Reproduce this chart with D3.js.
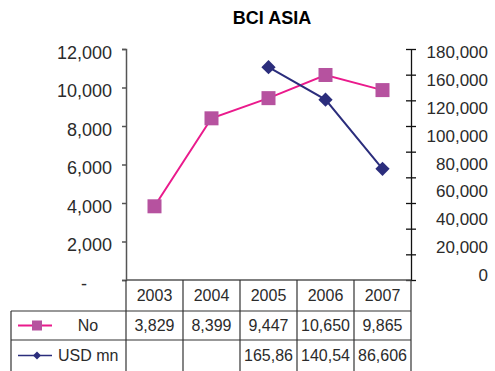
<!DOCTYPE html>
<html>
<head>
<meta charset="utf-8">
<script src="https://cdn.jsdelivr.net/npm/d3@7"></script>
<style>
  body { margin: 0; background: #fff; }
  svg text { font-family: "Liberation Sans", Arial, sans-serif; fill: #2b2b2b; }
</style>
</head>
<body>
<div id="chart"></div>
<script>
// BCI Asia: number of projects (left axis) and value in USD mn (right axis)

const years = ["2003", "2004", "2005", "2006", "2007"]
const noValues = [3829, 8399, 9447, 10650, 9865]
const usdValues = [null, null, 165860, 140540, 86606]

const noLabels = ["3,829", "8,399", "9,447", "10,650", "9,865"]
const usdLabels = ["", "", "165,86", "140,54", "86,606"]

const leftTicks = [0, 2000, 4000, 6000, 8000, 10000, 12000]
const rightTicks = [0, 20000, 40000, 60000, 80000, 100000, 120000, 140000, 160000, 180000]
// the labels on the right axis, as printed (140,000 is missing in the source)
const rightLabels = ["180,000", "160,000", "120,000", "100,000", "80,000",
  "60,000", "40,000", "20,000", "0"]

const WIDTH = 495
const HEIGHT = 371
const PLOT = { LEFT: 126, RIGHT: 411, TOP: 49, BOTTOM: 280 }
const ROWS = [280, 311, 340, 371]
const TABLE_LEFT = 11

const PINK = "#ea1a8c"
const PINK_FILL = "#b6529f"
const NAVY = "#2b2d7c"

const svg = d3.select("#chart")
  .append("svg")
  .attr("width", WIDTH)
  .attr("height", HEIGHT)

const x = d3.scaleBand()
  .domain(years)
  .range([PLOT.LEFT, PLOT.RIGHT])

const yLeft = d3.scaleLinear()
  .domain([0, 12000])
  .range([PLOT.BOTTOM, PLOT.TOP])

const yRight = d3.scaleLinear()
  .domain([0, 180000])
  .range([PLOT.BOTTOM, PLOT.TOP])

const cx = d => x(d) + x.bandwidth() / 2

// title
svg.append("text")
  .attr("x", 272)
  .attr("y", 24)
  .attr("text-anchor", "middle")
  .style("font-weight", "bold")
  .style("font-size", "18px")
  .style("fill", "#000")
  .text("BCI ASIA")

// left axis
const leftAxis = svg.append("g")
  .attr("transform", `translate(${PLOT.LEFT},0)`)
  .call(d3.axisLeft(yLeft)
    .tickValues(leftTicks)
    .tickSize(4)
    .tickPadding(10)
    .tickFormat(d => d === 0 ? "-\u00a0\u00a0\u00a0\u00a0\u00a0" : d3.format(",")(d)))
leftAxis.select(".domain").attr("stroke", "#555").attr("stroke-width", 1.5)
leftAxis.selectAll(".tick line").attr("stroke", "#555").attr("stroke-width", 1.5)
leftAxis.selectAll(".tick text")
  .style("font-size", "18px")
  .attr("dy", "0.5em")

// right axis: line plus ticks crossing it
const rightAxis = svg.append("g")
  .attr("transform", `translate(${PLOT.RIGHT},0)`)
  .call(d3.axisRight(yRight).tickValues(rightTicks).tickSize(0).tickFormat(""))
rightAxis.select(".domain").attr("stroke", "#111").attr("stroke-width", 1.3)
rightAxis.selectAll(".tick line")
  .attr("x1", -5)
  .attr("x2", 5)
  .attr("stroke", "#111")
  .attr("stroke-width", 1.3)

const rightLabelY = d3.scalePoint()
  .domain(rightLabels)
  .range([52, 275])

svg.append("g")
  .selectAll("text")
  .data(rightLabels)
  .join("text")
    .attr("x", 488)
    .attr("y", d => rightLabelY(d))
    .attr("dy", "0.36em")
    .attr("text-anchor", "end")
    .style("font-size", "17px")
    .text(d => d)

// table grid
const grid = svg.append("g")
  .attr("stroke", "#333")
  .attr("stroke-width", 1.2)

grid.append("line")
  .attr("x1", PLOT.LEFT).attr("x2", PLOT.RIGHT)
  .attr("y1", ROWS[0]).attr("y2", ROWS[0])
  .attr("stroke", "#555").attr("stroke-width", 1.5)

grid.selectAll(".hrow")
  .data(ROWS.slice(1, 3))
  .join("line")
    .attr("class", "hrow")
    .attr("x1", TABLE_LEFT).attr("x2", PLOT.RIGHT)
    .attr("y1", d => d).attr("y2", d => d)

const colEdges = years.map(d => x(d)).concat([x.range()[1]])
grid.selectAll(".vcol")
  .data(colEdges)
  .join("line")
    .attr("class", "vcol")
    .attr("x1", d => d).attr("x2", d => d)
    .attr("y1", ROWS[0]).attr("y2", ROWS[3])

grid.append("line")
  .attr("x1", TABLE_LEFT).attr("x2", TABLE_LEFT)
  .attr("y1", ROWS[1]).attr("y2", ROWS[3])

// table text
const rowMid = i => (ROWS[i] + ROWS[i + 1]) / 2

function tableRow(labels, i) {
  svg.append("g")
    .selectAll("text")
    .data(labels)
    .join("text")
      .attr("x", (d, j) => cx(years[j]))
      .attr("y", rowMid(i))
      .attr("dy", "0.36em")
      .attr("text-anchor", "middle")
      .style("font-size", "16px")
      .text(d => d)
}
tableRow(years, 0)
tableRow(noLabels, 1)
tableRow(usdLabels, 2)

// legend keys inside the table
svg.append("line")
  .attr("x1", 18).attr("x2", 52)
  .attr("y1", rowMid(1)).attr("y2", rowMid(1))
  .attr("stroke", PINK).attr("stroke-width", 2)
svg.append("rect")
  .attr("x", 32).attr("y", rowMid(1) - 5)
  .attr("width", 10).attr("height", 10)
  .attr("fill", PINK_FILL)
svg.append("text")
  .attr("x", 88).attr("y", rowMid(1)).attr("dy", "0.36em")
  .attr("text-anchor", "middle")
  .style("font-size", "16px")
  .text("No")

svg.append("line")
  .attr("x1", 18).attr("x2", 52)
  .attr("y1", rowMid(2)).attr("y2", rowMid(2))
  .attr("stroke", NAVY).attr("stroke-width", 1.5)
svg.append("path")
  .attr("d", d3.symbol(d3.symbolDiamond2, 40)())
  .attr("transform", `translate(37,${rowMid(2)})`)
  .attr("fill", NAVY)
svg.append("text")
  .attr("x", 58).attr("y", rowMid(2)).attr("dy", "0.36em")
  .style("font-size", "16px")
  .text("USD mn")

// series: No (left axis)
const noData = years.map((d, i) => ({ year: d, value: noValues[i] }))
svg.append("path")
  .datum(noData)
  .attr("fill", "none")
  .attr("stroke", PINK)
  .attr("stroke-width", 2)
  .attr("d", d3.line().x(d => cx(d.year)).y(d => yLeft(d.value)))
svg.append("g")
  .selectAll("rect")
  .data(noData)
  .join("rect")
    .attr("x", d => cx(d.year) - 7)
    .attr("y", d => yLeft(d.value) - 7)
    .attr("width", 14)
    .attr("height", 14)
    .attr("fill", PINK_FILL)

// series: USD mn (right axis)
const usdData = years.map((d, i) => ({ year: d, value: usdValues[i] }))
  .filter(d => d.value != null)
svg.append("path")
  .datum(usdData)
  .attr("fill", "none")
  .attr("stroke", NAVY)
  .attr("stroke-width", 2)
  .attr("d", d3.line().x(d => cx(d.year)).y(d => yRight(d.value)))
svg.append("g")
  .selectAll("path")
  .data(usdData)
  .join("path")
    .attr("d", d3.symbol(d3.symbolDiamond2, 130)())
    .attr("transform", d => `translate(${cx(d.year)},${yRight(d.value)})`)
    .attr("fill", NAVY)
</script>
</body>
</html>
